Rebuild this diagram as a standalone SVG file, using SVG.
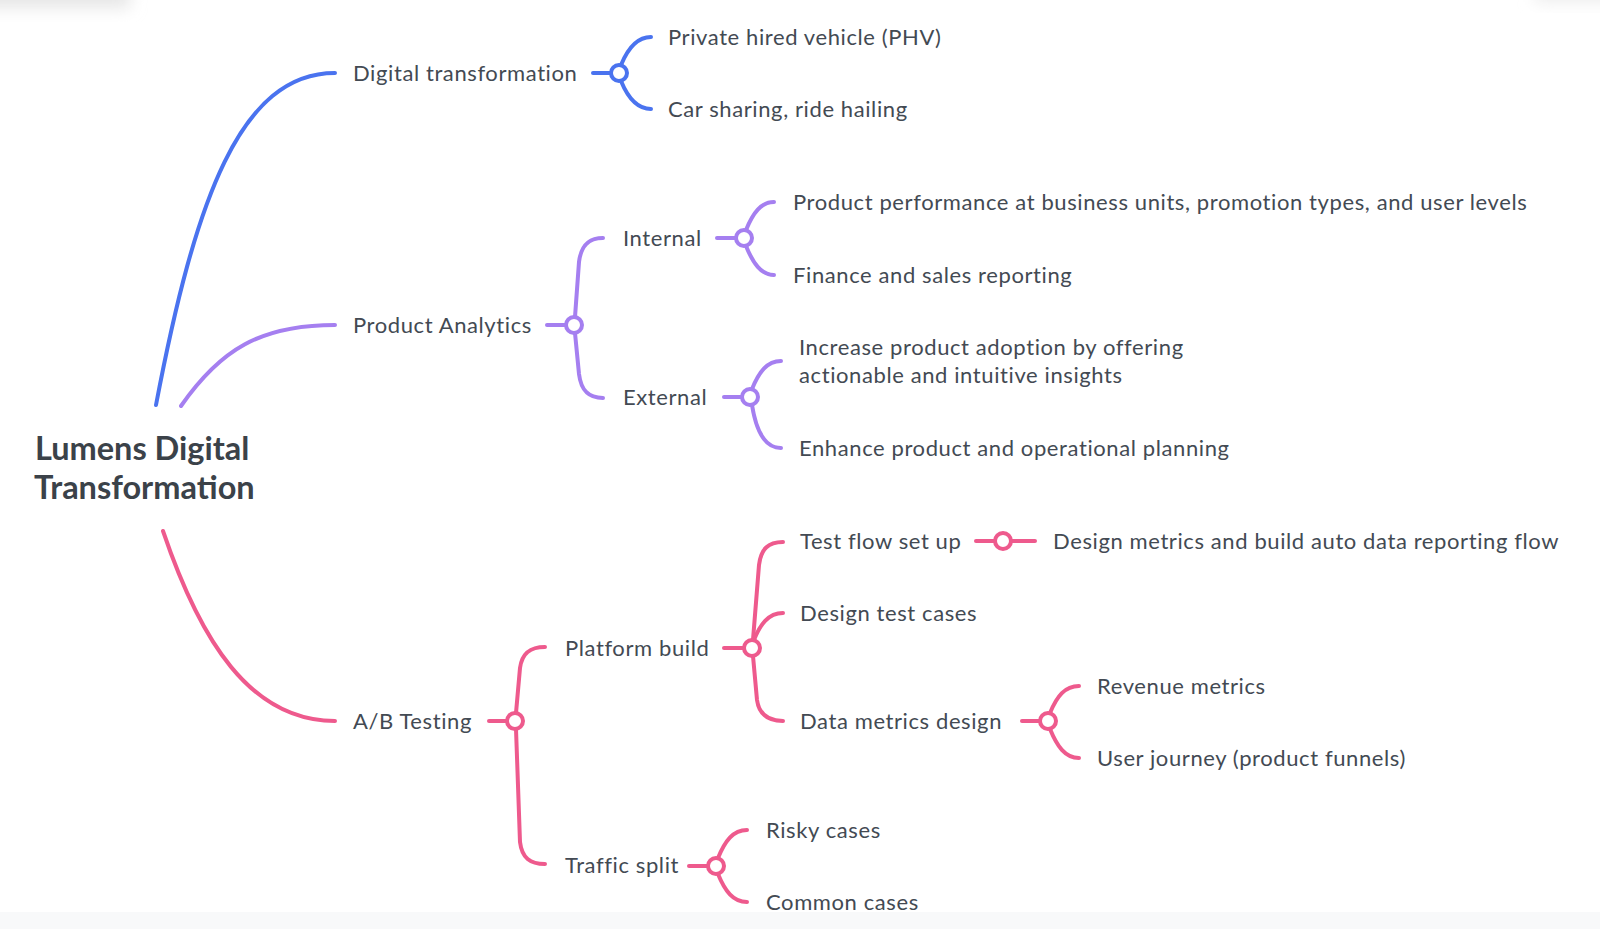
<svg xmlns="http://www.w3.org/2000/svg" width="1600" height="929" viewBox="0 0 1600 929">
<defs>
<style>
.t{font-family:Lato,"Open Sans","Liberation Sans",sans-serif;font-size:22px;letter-spacing:0.6px;fill:#434a53}
.root{font-family:Lato,"Open Sans","Liberation Sans",sans-serif;font-size:32.5px;font-weight:bold;fill:#3b4249}
.l{fill:none;stroke-width:4;stroke-linecap:round}
.b{stroke:#4a73ef}
.p{stroke:#a57ff0}
.k{stroke:#ee5a8d}
.c{fill:#fff;stroke-width:4}
</style>
<filter id="blur" x="-50%" y="-50%" width="200%" height="200%"><feGaussianBlur stdDeviation="8"/></filter>
</defs>
<rect width="1600" height="929" fill="#fff"/>
<rect x="-40" y="-20" width="170" height="28" fill="#e6e6e6" filter="url(#blur)"/>
<rect x="1535" y="-20" width="100" height="22" fill="#ececec" filter="url(#blur)"/>
<rect x="0" y="912" width="1600" height="17" fill="#f8f9fa"/>

<g id="connectors">
<path class="l b" d="M156,405 C195,200 240,73 335,73"/>
<path class="l p" d="M181,406 C220,350 260,325 335,325"/>
<path class="l k" d="M163,531 C200,640 250,721 335,721"/>

<path class="l b" d="M593,73 H611"/>
<path class="l b" d="M621,65 C628,48 637,37 651,37"/>
<path class="l b" d="M621,81 C628,98 637,109 651,109"/>

<path class="l p" d="M547,325 H566"/>
<path class="l p" d="M575,317 L579,262 C581,246 588,238 603,238"/>
<path class="l p" d="M575,333 L579,374 C581,390 588,398 603,398"/>
<path class="l p" d="M717,238 H736"/>
<path class="l p" d="M746,230 C753,213 761,202 774,202"/>
<path class="l p" d="M746,246 C753,263 761,275 774,275"/>
<path class="l p" d="M724,397 H742"/>
<path class="l p" d="M752,389 C759,372 767,361 781,361"/>
<path class="l p" d="M752,405 C756,430 764,448 781,448"/>

<path class="l k" d="M489,721 H507"/>
<path class="l k" d="M516,713 L520,668 C522,653 530,647 545,647"/>
<path class="l k" d="M516,729 L520,842 C522,858 530,864 545,864"/>
<path class="l k" d="M724,648 H744"/>
<path class="l k" d="M753,640 L759,565 C761,549 768,542 783,542"/>
<path class="l k" d="M754,640 C760,625 768,613 783,613"/>
<path class="l k" d="M753,656 L757,700 C759,714 768,721 783,721"/>
<path class="l k" d="M976,541 H995"/>
<path class="l k" d="M1011,541 H1035"/>
<path class="l k" d="M1022,721 H1040"/>
<path class="l k" d="M1050,713 C1057,696 1065,686 1079,686"/>
<path class="l k" d="M1050,729 C1057,746 1065,758 1079,758"/>
<path class="l k" d="M689,866 H708"/>
<path class="l k" d="M718,858 C725,841 733,830 747,830"/>
<path class="l k" d="M718,874 C725,891 733,902 747,902"/>

<circle class="c b" cx="619" cy="73" r="8"/>
<circle class="c p" cx="574" cy="325" r="8"/>
<circle class="c p" cx="744" cy="238" r="8"/>
<circle class="c p" cx="750" cy="397" r="8"/>
<circle class="c k" cx="515" cy="721" r="8"/>
<circle class="c k" cx="752" cy="648" r="8"/>
<circle class="c k" cx="1003" cy="541" r="8"/>
<circle class="c k" cx="1048" cy="721" r="8"/>
<circle class="c k" cx="716" cy="866" r="8"/>
</g>

<g id="root"><text class="root" x="35" y="460">Lumens Digital</text><text class="root" x="34" y="499">Transformation</text></g>

<g id="digital-transformation"><text class="t" x="353" y="81">Digital transformation</text></g>
<g id="phv"><text class="t" x="668" y="45">Private hired vehicle (PHV)</text></g>
<g id="car-sharing"><text class="t" x="668" y="117">Car sharing, ride hailing</text></g>

<g id="product-analytics"><text class="t" x="353" y="333">Product Analytics</text></g>
<g id="internal"><text class="t" x="623" y="246">Internal</text></g>
<g id="external"><text class="t" x="623" y="405">External</text></g>
<g id="product-performance"><text class="t" x="793" y="210">Product performance at business units, promotion types, and user levels</text></g>
<g id="finance"><text class="t" x="793" y="283">Finance and sales reporting</text></g>
<g id="increase-adoption"><text class="t" x="799" y="355">Increase product adoption by offering</text><text class="t" x="799" y="383">actionable and intuitive insights</text></g>
<g id="enhance"><text class="t" x="799" y="456">Enhance product and operational planning</text></g>

<g id="ab-testing"><text class="t" x="353" y="729">A/B Testing</text></g>
<g id="platform-build"><text class="t" x="565" y="656">Platform build</text></g>
<g id="traffic-split"><text class="t" x="565" y="873">Traffic split</text></g>
<g id="test-flow"><text class="t" x="800" y="549">Test flow set up</text></g>
<g id="design-metrics"><text class="t" x="1053" y="549">Design metrics and build auto data reporting flow</text></g>
<g id="design-test-cases"><text class="t" x="800" y="621">Design test cases</text></g>
<g id="data-metrics-design"><text class="t" x="800" y="729">Data metrics design</text></g>
<g id="revenue-metrics"><text class="t" x="1097" y="694">Revenue metrics</text></g>
<g id="user-journey"><text class="t" x="1097" y="766">User journey (product funnels)</text></g>
<g id="risky-cases"><text class="t" x="766" y="838">Risky cases</text></g>
<g id="common-cases"><text class="t" x="766" y="910">Common cases</text></g>
</svg>
